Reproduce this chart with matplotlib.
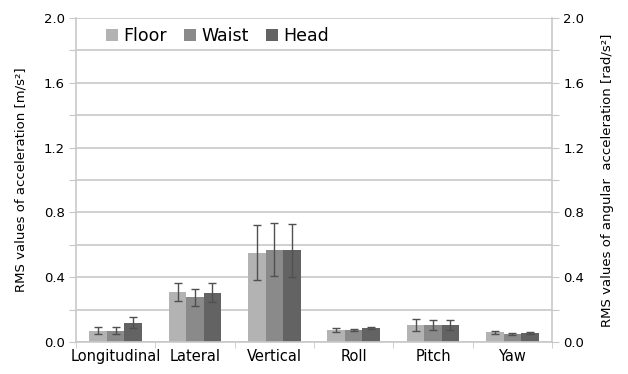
import matplotlib.pyplot as plt
import numpy as np

plt.rcParams["font.family"] = ["DejaVu Sans"]

categories = ["Longitudinal", "Lateral", "Vertical", "Roll", "Pitch", "Yaw"]
series = ["Floor", "Waist", "Head"]
floor = [0.07, 0.31, 0.55, 0.075, 0.105, 0.06]
waist = [0.07, 0.275, 0.57, 0.075, 0.105, 0.05]
head = [0.12, 0.305, 0.565, 0.085, 0.105, 0.055]
floor_err = [0.02, 0.055, 0.17, 0.012, 0.035, 0.008]
waist_err = [0.02, 0.05, 0.165, 0.006, 0.03, 0.004]
head_err = [0.035, 0.06, 0.165, 0.006, 0.03, 0.006]

values = [floor, waist, head]
errors = [floor_err, waist_err, head_err]
colors = ["#b3b3b3", "#8a8a8a", "#636363"]
grid_c = "#c8c8c8"

fig = plt.figure(figsize=(6.28, 3.74), dpi=100)
ax = fig.add_axes([0.121, 0.0856, 0.758, 0.866])

x = np.arange(len(categories))
w = 0.22
for i, (vals, errs, c) in enumerate(zip(values, errors, colors)):
    ax.bar(x + (i - 1) * w, vals, w, color=c, label=series[i], zorder=2,
           yerr=errs, capsize=3,
           error_kw=dict(ecolor="#505050", elinewidth=1, capthick=1))

yt = np.arange(0, 2.01, 0.2)
ylabels = [f"{v:.1f}" if i % 2 == 0 else "" for i, v in enumerate(yt)]

ax.set_xlim(-0.5, len(categories) - 0.5)
ax.set_ylim(0, 2.0)
ax.set_yticks(yt)
ax.set_yticklabels(ylabels, fontsize=9.5)
ax.yaxis.grid(True, color=grid_c, lw=1.2, zorder=0)
ax.set_axisbelow(True)

ax.set_xticks(x)
ax.set_xticklabels(categories, fontsize=10.5)
ax.tick_params(axis="x", length=0, pad=5)
ax.set_xticks(np.arange(-0.5, len(categories)), minor=True)
ax.tick_params(axis="x", which="minor", length=4, color=grid_c)
ax.tick_params(axis="y", length=5, color=grid_c, pad=3)

ax.spines["top"].set_visible(False)
for s in ["left", "right", "bottom"]:
    ax.spines[s].set_color(grid_c)
    ax.spines[s].set_linewidth(1.2)

ax.set_ylabel("RMS values of acceleration [m/s²]", fontsize=9.5, labelpad=12)

ax2 = ax.twinx()
ax2.set_ylim(0, 2.0)
ax2.set_yticks(yt)
ax2.set_yticklabels(ylabels, fontsize=9.5)
ax2.tick_params(axis="y", length=5, color=grid_c, pad=3)
for s in ax2.spines.values():
    s.set_visible(False)
ax2.set_ylabel("RMS values of angular  acceleration [rad/s²]",
               fontsize=9.5, rotation=90, labelpad=12)

ax.legend(loc="upper left", bbox_to_anchor=(0.03, 1.02), ncol=3, frameon=False,
          fontsize=12.5, handlelength=0.7, handleheight=0.7, handletextpad=0.3,
          columnspacing=1.0)

fig.savefig("out.png", dpi=100)
